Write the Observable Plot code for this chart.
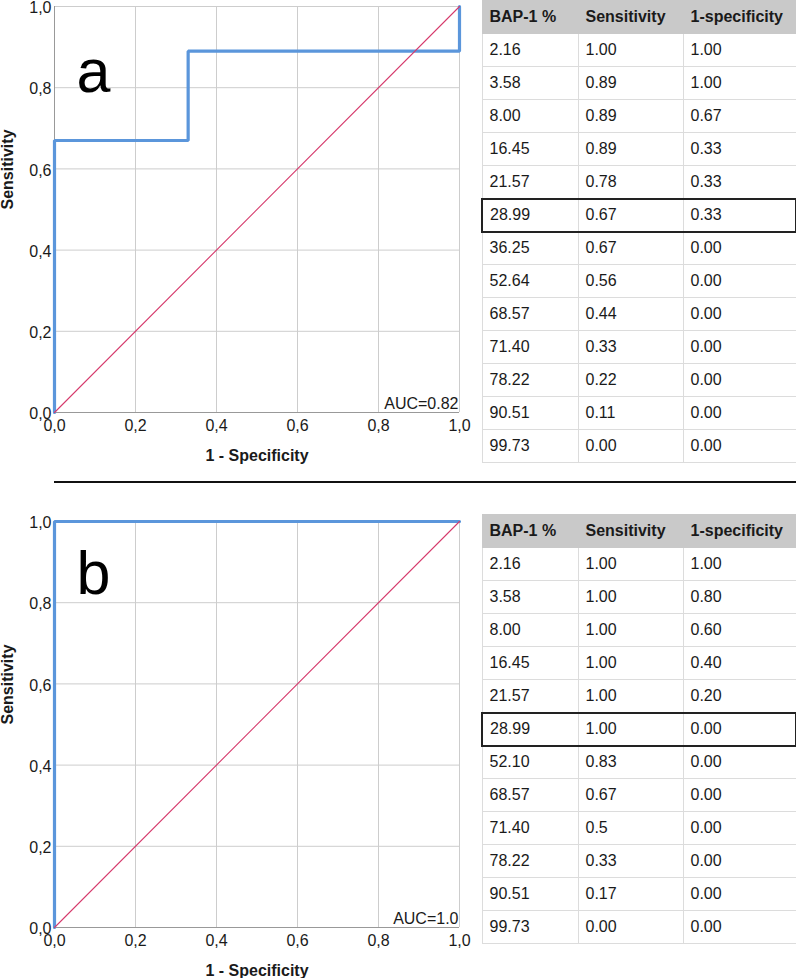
<!DOCTYPE html>
<html>
<head>
<meta charset="utf-8">
<script src="https://cdn.jsdelivr.net/npm/d3@7"></script>
<script src="https://cdn.jsdelivr.net/npm/@observablehq/plot@0.6"></script>
<style>
  body { margin: 0; background: #fff; font-family: "Liberation Sans", Arial, sans-serif; }
  #root { position: relative; width: 796px; height: 978px; overflow: hidden; background: #fff; }
  .roc { position: absolute; left: 0; }
  .sep { position: absolute; left: 54px; top: 481px; width: 742px; height: 2px; background: #111; }
  table { position: absolute; left: 481px; width: 314px; border-collapse: collapse; table-layout: fixed;
          font-size: 16px; color: #1a1a1a; font-family: "Liberation Sans", Arial, sans-serif; }
  td, th { height: 33px; padding: 0 0 0 7px; border: 1px solid #dcdcdc; text-align: left;
           box-sizing: border-box; white-space: nowrap; }
  th { background: #c9c9c9; font-weight: bold; border-color: #c9c9c9; }
  tr.hl td { border-top: 2px solid #222; border-bottom: 2px solid #222; }
  tr.hl td:first-child { border-left: 2px solid #222; }
  tr.hl td:last-child { border-right: 2px solid #222; }
</style>
</head>
<body>
<div id="root"></div>
<script>
// ---- Data ----
const headers = ["BAP-1 %", "Sensitivity", "1-specificity"];

// Panel a
const bapA  = ["2.16","3.58","8.00","16.45","21.57","28.99","36.25","52.64","68.57","71.40","78.22","90.51","99.73"];
const sensA = ["1.00","0.89","0.89","0.89","0.78","0.67","0.67","0.56","0.44","0.33","0.22","0.11","0.00"];
const fprA  = ["1.00","1.00","0.67","0.33","0.33","0.33","0.00","0.00","0.00","0.00","0.00","0.00","0.00"];
const aucA = "0.82";
const highlightA = "28.99";

// Panel b
const bapB  = ["2.16","3.58","8.00","16.45","21.57","28.99","52.10","68.57","71.40","78.22","90.51","99.73"];
const sensB = ["1.00","1.00","1.00","1.00","1.00","1.00","0.83","0.67","0.5","0.33","0.17","0.00"];
const fprB  = ["1.00","0.80","0.60","0.40","0.20","0.00","0.00","0.00","0.00","0.00","0.00","0.00"];
const aucB = "1.0";
const highlightB = "28.99";

const tickVals = [0, 0.2, 0.4, 0.6, 0.8, 1.0];
const diag = [0, 1];

const FONT = '"Liberation Sans", Arial, sans-serif';
const fmt = d => d.toFixed(1).replace(".", ",");

function roc(fpr, sens, auc, letter, letterDy) {
  const idx = d3.range(fpr.length);
  return Plot.plot({
    width: 475, height: 470,
    marginLeft: 54, marginRight: 16, marginTop: 6, marginBottom: 58,
    style: { fontFamily: FONT, fontSize: "16px", color: "#1a1a1a", background: "transparent", overflow: "visible" },
    x: { domain: [0, 1], axis: null },
    y: { domain: [0, 1], axis: null },
    marks: [
      Plot.ruleX(tickVals, { stroke: "#cdcdcd", strokeWidth: 1 }),
      Plot.ruleY(tickVals, { stroke: "#cdcdcd", strokeWidth: 1 }),
      Plot.ruleX([0], { stroke: "#999", strokeWidth: 1 }),
      Plot.ruleY([0], { stroke: "#999", strokeWidth: 1.2 }),
      // tick labels
      Plot.text(tickVals, { x: d => d, text: fmt, frameAnchor: "bottom", lineAnchor: "top",
                            dy: 7, fontSize: 16, fill: "#1a1a1a" }),
      Plot.text(tickVals, { y: d => d, text: fmt, frameAnchor: "left", textAnchor: "end",
                            lineAnchor: "middle", dx: -3, dy: 1.5, fontSize: 16, fill: "#1a1a1a" }),
      Plot.line(idx, { x: i => +fpr[i], y: i => +sens[i], stroke: "#5b96db", strokeWidth: 3.2,
                       strokeLinejoin: "miter", curve: "linear" }),
      Plot.line(diag, { x: d => d, y: d => d, stroke: "#d63a6c", strokeWidth: 1.1 }),
      Plot.text([auc], { text: d => "AUC=" + d, frameAnchor: "bottom-right", textAnchor: "end",
                         lineAnchor: "bottom", dx: -1, dy: -4, fontSize: 16, fill: "#1a1a1a" }),
      Plot.text([letter], { text: d => d, frameAnchor: "top-left", textAnchor: "start",
                            lineAnchor: "bottom", dx: 22, dy: letterDy, fontSize: 61, fill: "#000" }),
      Plot.text(["1 - Specificity"], { text: d => d, frameAnchor: "bottom", lineAnchor: "middle",
                                       dy: 43, fontWeight: "bold", fontSize: 16, fill: "#1a1a1a" }),
      Plot.text(["Sensitivity"], { text: d => d, frameAnchor: "left", rotate: -90, lineAnchor: "middle",
                                   dx: -47, fontWeight: "bold", fontSize: 16, fill: "#1a1a1a" })
    ]
  });
}

function makeTable(bap, sens, fpr, hl, top) {
  const t = document.createElement("table");
  t.style.top = top + "px";
  const cg = document.createElement("colgroup");
  [96, 105, 113].forEach(w => { const c = document.createElement("col"); c.style.width = w + "px"; cg.appendChild(c); });
  t.appendChild(cg);
  const thr = document.createElement("tr");
  headers.forEach(h => { const th = document.createElement("th"); th.textContent = h; thr.appendChild(th); });
  t.appendChild(thr);
  bap.forEach((b, i) => {
    const tr = document.createElement("tr");
    if (b === hl) tr.className = "hl";
    [b, sens[i], fpr[i]].forEach(v => { const td = document.createElement("td"); td.textContent = v; tr.appendChild(td); });
    t.appendChild(tr);
  });
  return t;
}

const root = document.getElementById("root");

const pa = roc(fprA, sensA, aucA, "a", 85);
const wa = document.createElement("div"); wa.className = "roc"; wa.style.top = "0px"; wa.appendChild(pa);
root.appendChild(wa);

const pb = roc(fprB, sensB, aucB, "b", 72);
const wb = document.createElement("div"); wb.className = "roc"; wb.style.top = "515px"; wb.appendChild(pb);
root.appendChild(wb);

const sep = document.createElement("div"); sep.className = "sep"; root.appendChild(sep);

root.appendChild(makeTable(bapA, sensA, fprA, highlightA, 0));
root.appendChild(makeTable(bapB, sensB, fprB, highlightB, 514));
</script>
</body>
</html>
